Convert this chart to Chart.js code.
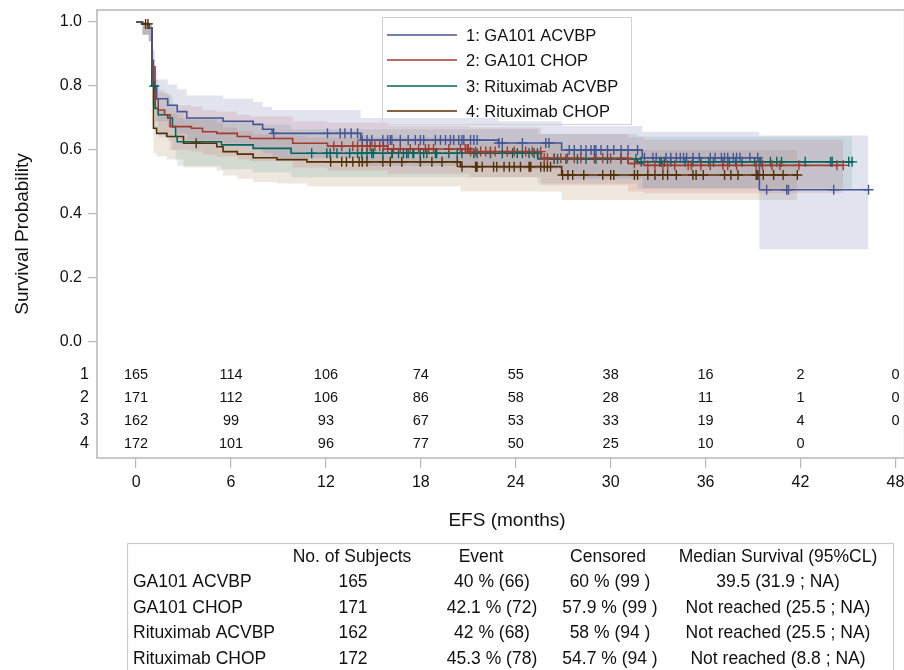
<!DOCTYPE html>
<html>
<head>
<meta charset="utf-8">
<script src="https://cdn.jsdelivr.net/npm/chart.js@4.4.1/dist/chart.umd.min.js"></script>
<style>
html, body { margin: 0; padding: 0; background: #fff; overflow: hidden; }
#wrap { width: 904px; height: 670px; overflow: hidden; }
</style>
</head>
<body>
<div id="wrap"><canvas id="km" width="911" height="670"></canvas></div>
<script>
// groups
var groupNames = ['GA101 ACVBP', 'GA101 CHOP', 'Rituximab ACVBP', 'Rituximab CHOP'];
var lineColors = ['#445694', '#A23A2E', '#01665E', '#543005'];
var bandColors = ['rgba(111,126,179,0.21)', 'rgba(208,91,91,0.17)', 'rgba(102,165,160,0.2)', 'rgba(169,134,91,0.2)'];

// 1: GA101 ACVBP  (step times, survival, 95% band)
var t1   = [0, 0.4, 0.8, 1.0, 1.1, 1.3, 2.0, 2.6, 3.2, 5.5, 7.4, 8.0, 8.6, 14.2, 22.9, 26.9, 32.0, 39.4];
var s1   = [1.0, 0.994, 0.982, 0.88, 0.80, 0.76, 0.74, 0.72, 0.70, 0.69, 0.68, 0.665, 0.652, 0.631, 0.622, 0.60, 0.576, 0.476];
var up1  = [1.0, 1.0, 0.996, 0.92, 0.85, 0.82, 0.805, 0.79, 0.77, 0.76, 0.75, 0.735, 0.725, 0.70, 0.69, 0.675, 0.657, 0.645];
var lo1  = [1.0, 0.96, 0.94, 0.82, 0.73, 0.69, 0.67, 0.65, 0.63, 0.62, 0.605, 0.59, 0.575, 0.55, 0.54, 0.51, 0.48, 0.29];
var cens1 = [8.7, 12.1, 12.9, 13.2, 13.6, 14.0, 14.3, 14.6, 14.9, 15.6, 15.9, 16.07, 16.17, 16.7, 17.2, 17.65, 17.97,
  18.18, 18.92, 19.24, 19.56, 19.87, 20.08, 20.4, 20.6, 20.72, 21.14, 21.35, 21.56, 22.94, 23.15, 24.42, 25.9, 26.1,
  27.38, 27.7, 28.12, 28.44, 28.76, 28.97, 29.07, 29.39, 29.8, 30.2, 30.66, 31.1, 31.7, 32.14, 32.67, 32.88, 33.5,
  33.8, 34.15, 34.4, 34.6, 34.8, 35.2, 35.6, 36.3, 36.6, 37.0, 37.2, 37.4, 37.75, 37.96, 38.17, 38.8, 39.3, 39.86,
  41.13, 41.24, 44.1, 46.3];

// 2: GA101 CHOP
var t2   = [0, 0.4, 0.8, 1.0, 1.2, 1.4, 1.8, 2.15, 3.5, 4.2, 5.1, 6.4, 7.2, 9.9, 12.1, 15.9, 21.1, 25.6, 31.1, 32.1];
var s2   = [1.0, 0.994, 0.982, 0.86, 0.76, 0.725, 0.71, 0.673, 0.668, 0.657, 0.652, 0.642, 0.636, 0.621, 0.612, 0.603, 0.595, 0.574, 0.558, 0.552];
var up2  = [1.0, 1.0, 0.996, 0.91, 0.82, 0.79, 0.775, 0.74, 0.735, 0.725, 0.72, 0.71, 0.705, 0.69, 0.685, 0.675, 0.67, 0.65, 0.64, 0.632];
var lo2  = [1.0, 0.96, 0.94, 0.80, 0.69, 0.655, 0.64, 0.60, 0.595, 0.585, 0.58, 0.57, 0.565, 0.545, 0.535, 0.525, 0.515, 0.49, 0.47, 0.465];
var cens2 = [12.5, 13.0, 13.7, 14.0, 14.3, 14.6, 14.8, 15.1, 15.4, 15.64, 15.9, 16.28, 16.7, 17.33, 17.86, 18.29, 18.5,
  18.8, 19.77, 20.5, 20.8, 20.93, 21.0, 21.14, 21.46, 21.78, 22.1, 22.4, 22.7, 23.47, 23.9, 24.63, 25.05, 25.58, 25.8,
  26.0, 26.43, 26.85, 27.27, 27.7, 28.12, 28.97, 29.5, 30.0, 30.66, 31.08, 31.5, 32.35, 32.8, 33.3, 33.6, 34.05, 34.9,
  35.1, 35.7, 36.3, 37.1, 37.4, 37.96, 39.2, 39.6, 40.2, 40.7, 41.9, 44.3, 44.7];

// 3: Rituximab ACVBP
var t3   = [0, 0.4, 0.8, 1.0, 1.1, 1.2, 1.4, 2.0, 2.3, 2.5, 2.6, 5.4, 7.4, 9.8, 25.4, 31.7];
var s3   = [1.0, 0.994, 0.982, 0.86, 0.80, 0.73, 0.71, 0.70, 0.673, 0.642, 0.626, 0.616, 0.605, 0.59, 0.572, 0.563];
var up3  = [1.0, 1.0, 0.996, 0.91, 0.86, 0.80, 0.78, 0.77, 0.745, 0.715, 0.70, 0.69, 0.68, 0.665, 0.65, 0.642];
var lo3  = [1.0, 0.96, 0.94, 0.80, 0.74, 0.66, 0.64, 0.63, 0.60, 0.57, 0.55, 0.54, 0.53, 0.515, 0.495, 0.48];
var cens3 = [1.15, 11.1, 12.06, 12.27, 12.7, 13.5, 14.0, 14.27, 14.6, 14.9, 15.0, 15.6, 16.17, 16.2, 16.59, 16.9, 17.1,
  17.2, 17.5, 17.55, 17.96, 18.18, 18.38, 18.92, 19.0, 19.77, 20.3, 20.6, 21.35, 21.56, 22.4, 23.15, 23.8, 24.1, 24.42,
  24.84, 25.16, 25.37, 26.43, 26.64, 27.17, 27.9, 28.44, 29.07, 29.8, 30.66, 31.6, 31.93, 33.1, 33.2, 33.4, 33.8, 34.7,
  35.2, 35.7, 36.2, 36.5, 37.1, 37.5, 37.9, 38.3, 39.1, 39.5, 40.1, 40.5, 40.8, 42.3, 43.9, 44.0, 45.05, 45.26];

// 4: Rituximab CHOP
var t4   = [0, 0.4, 0.8, 1.0, 1.1, 1.3, 1.95, 3.0, 5.1, 5.5, 6.4, 7.4, 8.9, 10.8, 20.5, 26.9];
var s4   = [1.0, 0.994, 0.982, 0.80, 0.668, 0.652, 0.642, 0.621, 0.61, 0.595, 0.587, 0.576, 0.57, 0.563, 0.548, 0.522];
var up4  = [1.0, 1.0, 0.996, 0.86, 0.74, 0.725, 0.715, 0.695, 0.685, 0.67, 0.66, 0.65, 0.645, 0.64, 0.625, 0.60];
var lo4  = [1.0, 0.96, 0.94, 0.74, 0.59, 0.58, 0.57, 0.545, 0.535, 0.52, 0.51, 0.50, 0.495, 0.487, 0.47, 0.444];
var cens4 = [0.6, 0.75, 3.8, 12.3, 13.0, 13.3, 13.7, 14.1, 14.3, 14.6, 15.6, 16.07, 16.8, 17.97, 18.7, 19.34, 20.3, 20.6,
  21.46, 21.5, 21.56, 21.88, 22.6, 22.8, 23.26, 23.6, 23.9, 24.3, 24.84, 24.9, 24.95, 25.58, 25.8, 26.0, 26.2, 26.96,
  27.3, 27.6, 28.3, 29.5, 30.0, 30.2, 31.5, 31.7, 32.35, 32.8, 33.3, 33.6, 34.15, 35.2, 35.4, 35.85, 37.2, 37.6, 38.05,
  39.2, 39.3, 39.65, 40.3, 40.9, 41.8];

// axes
var xTicks = [0, 6, 12, 18, 24, 30, 36, 42, 48];
var yTicks = [0, 0.2, 0.4, 0.6, 0.8, 1.0];

// number at risk
var riskTimes = [0, 6, 12, 18, 24, 30, 36, 42, 48];
var atRisk1 = [165, 114, 106, 74, 55, 38, 16, 2, 0];
var atRisk2 = [171, 112, 106, 86, 58, 28, 11, 1, 0];
var atRisk3 = [162, 99, 93, 67, 53, 33, 19, 4, 0];
var atRisk4 = [172, 101, 96, 77, 50, 25, 10, 0];

// summary table
var tableHead = ['No. of Subjects', 'Event', 'Censored', 'Median Survival (95%CL)'];
var subjects = ['165', '171', '162', '172'];
var events = ['40 % (66)', '42.1 % (72)', '42 % (68)', '45.3 % (78)'];
var censored = ['60 % (99 )', '57.9 % (99 )', '58 % (94 )', '54.7 % (94 )'];
var medians = ['39.5 (31.9 ; NA)', 'Not reached (25.5 ; NA)', 'Not reached (25.5 ; NA)', 'Not reached (8.8 ; NA)'];

var groups = [
  {t: t1, s: s1, up: up1, lo: lo1, cens: cens1, risk: atRisk1},
  {t: t2, s: s2, up: up2, lo: lo2, cens: cens2, risk: atRisk2},
  {t: t3, s: s3, up: up3, lo: lo3, cens: cens3, risk: atRisk3},
  {t: t4, s: s4, up: up4, lo: lo4, cens: cens4, risk: atRisk4}
];

function stepPts(t, v, tEnd) {
  var p = [];
  for (var i = 0; i < t.length; i++) p.push({x: t[i], y: v[i]});
  p.push({x: tEnd, y: v[v.length - 1]});
  return p;
}

function survAt(t, s, x) {
  var v = s[0];
  for (var i = 0; i < t.length; i++) { if (t[i] <= x) v = s[i]; }
  return v;
}

var datasets = [];
groups.forEach(function(g, k) {
  var tEnd = g.cens[g.cens.length - 1];
  datasets.push({data: stepPts(g.t, g.up, tEnd), stepped: 'before', borderColor: 'transparent', borderWidth: 0,
    pointRadius: 0, fill: '+1', backgroundColor: bandColors[k], order: 3});
  datasets.push({data: stepPts(g.t, g.lo, tEnd), stepped: 'before', borderColor: 'transparent', borderWidth: 0,
    pointRadius: 0, fill: false, order: 3});
});
groups.forEach(function(g, k) {
  var tEnd = g.cens[g.cens.length - 1];
  datasets.push({label: (k + 1) + ': ' + groupNames[k], data: stepPts(g.t, g.s, tEnd), stepped: 'before',
    borderColor: lineColors[k], borderWidth: 1.6, pointRadius: 0, fill: false, order: 2});
  datasets.push({data: g.cens.map(function(c) { return {x: c, y: survAt(g.t, g.s, c)}; }), showLine: false,
    pointStyle: 'cross', pointRadius: 5, borderColor: lineColors[k], borderWidth: 1.4, order: 1});
});

var frameColor = '#b4b8bc';

var extras = {
  id: 'extras',
  afterDraw: function(chart) {
    var ctx = chart.ctx, a = chart.chartArea;
    var xs = chart.scales.x, ys = chart.scales.y;
    ctx.save();
    // frame
    ctx.strokeStyle = frameColor;
    ctx.lineWidth = 1.5;
    ctx.strokeRect(a.left, a.top, a.right - a.left, a.bottom - a.top);

    // x axis title
    ctx.fillStyle = '#111';
    ctx.font = '19px "Liberation Sans", Arial, sans-serif';
    ctx.textAlign = 'center';
    ctx.textBaseline = 'middle';
    ctx.fillText('EFS (months)', 507, 521);

    // legend
    ctx.strokeStyle = '#cfd2d5';
    ctx.lineWidth = 1;
    ctx.strokeRect(382.5, 17.5, 249, 107);
    ctx.font = '16.5px "Liberation Sans", Arial, sans-serif';
    ctx.textAlign = 'left';
    var legY = [35, 60, 86, 111];
    groups.forEach(function(g, k) {
      ctx.strokeStyle = lineColors[k];
      ctx.lineWidth = 1.5;
      ctx.beginPath();
      ctx.moveTo(387, legY[k]);
      ctx.lineTo(457, legY[k]);
      ctx.stroke();
      ctx.fillText((k + 1) + ': ' + groupNames[k], 466, legY[k] + 1);
    });

    // number at risk
    var riskRows = [-0.103, -0.175, -0.247, -0.319];
    groups.forEach(function(g, k) {
      var y = ys.getPixelForValue(riskRows[k]);
      ctx.font = '16px "Liberation Sans", Arial, sans-serif';
      ctx.textAlign = 'right';
      ctx.fillText(String(k + 1), 89, y);
      ctx.font = '14.5px "Liberation Sans", Arial, sans-serif';
      ctx.textAlign = 'center';
      g.risk.forEach(function(n, i) {
        ctx.fillText(String(n), xs.getPixelForValue(riskTimes[i]), y);
      });
    });

    // summary table
    ctx.strokeStyle = '#c8cbce';
    ctx.lineWidth = 1.2;
    ctx.strokeRect(127.5, 543.5, 766, 140);
    ctx.font = '17.5px "Liberation Sans", Arial, sans-serif';
    var headX = [352, 481, 608, 778];
    var colX = [353, 492, 610, 778];
    ctx.textAlign = 'center';
    tableHead.forEach(function(h, i) { ctx.fillText(h, headX[i], 557); });
    var rowY = [582, 608, 633, 659];
    for (var r = 0; r < 4; r++) {
      ctx.textAlign = 'left';
      ctx.fillText(groupNames[r], 133, rowY[r]);
      ctx.textAlign = 'center';
      ctx.fillText(subjects[r], colX[0], rowY[r]);
      ctx.fillText(events[r], colX[1], rowY[r]);
      ctx.fillText(censored[r], colX[2], rowY[r]);
      ctx.fillText(medians[r], colX[3], rowY[r]);
    }
    ctx.restore();
  }
};

Chart.defaults.font.family = '"Liberation Sans", Arial, sans-serif';
Chart.defaults.color = '#111';

new Chart(document.getElementById('km'), {
  type: 'line',
  data: {datasets: datasets},
  options: {
    responsive: false,
    animation: false,
    devicePixelRatio: 1,
    layout: {padding: {left: 0, top: 10, right: 0, bottom: 135}},
    plugins: {legend: {display: false}, tooltip: {enabled: false}},
    scales: {
      x: {
        type: 'linear', min: -2.47, max: 48.58,
        afterBuildTicks: function(scale) { scale.ticks = xTicks.map(function(v) { return {value: v}; }); },
        afterFit: function(scale) { scale.height = 77; scale.paddingLeft = 0; scale.paddingRight = 0; },
        grid: {drawOnChartArea: false, drawTicks: true, tickLength: 10, color: frameColor, lineWidth: 1.2},
        border: {display: false},
        ticks: {font: {size: 16}, padding: 5, maxRotation: 0, autoSkip: false},
        title: {display: false}
      },
      y: {
        type: 'linear', min: -0.3625, max: 1.0375,
        afterBuildTicks: function(scale) { scale.ticks = yTicks.map(function(v) { return {value: v}; }); },
        afterFit: function(scale) { scale.width = 97; scale.paddingTop = 0; scale.paddingBottom = 0; },
        grid: {drawOnChartArea: false, drawTicks: true, tickLength: 9, color: frameColor, lineWidth: 1.2},
        border: {display: false},
        ticks: {font: {size: 16}, padding: 6, callback: function(v) { return v.toFixed(1); }},
        title: {display: true, text: 'Survival Probability', font: {size: 19}, padding: {top: 11, bottom: 0}}
      }
    }
  },
  plugins: [extras]
});
</script>
</body>
</html>
